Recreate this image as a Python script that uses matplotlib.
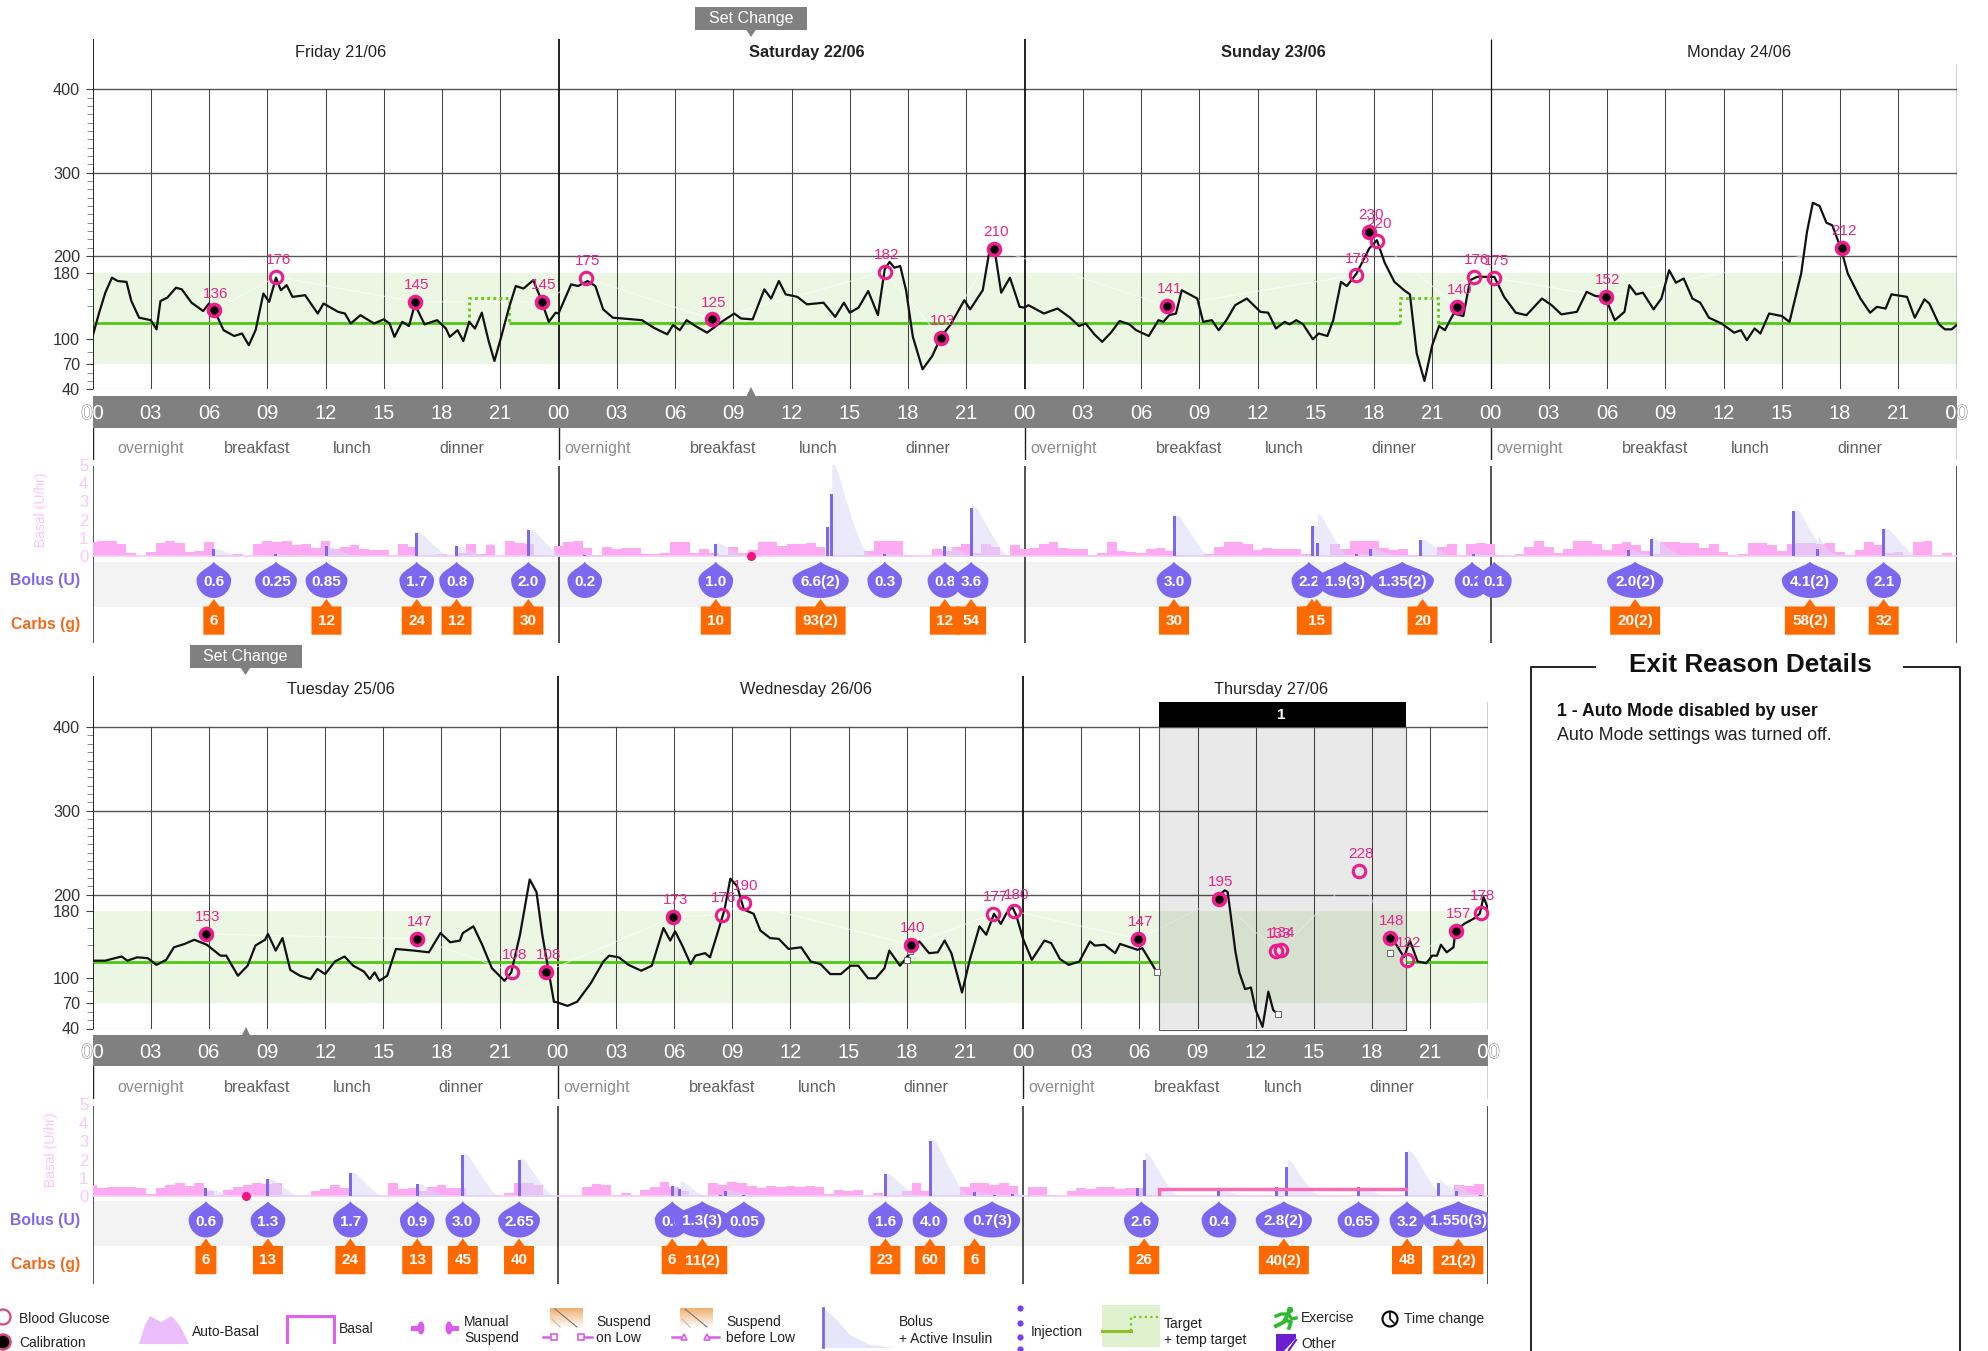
import numpy as np
import matplotlib
matplotlib.use('Agg')
import matplotlib.pyplot as plt
from matplotlib.path import Path
from matplotlib.patches import PathPatch, Polygon, Rectangle, Circle, Ellipse
import matplotlib.patheffects as pe

plt.rcParams['font.family'] = ['Liberation Sans', 'DejaVu Sans']

# glucose curves, hour of day / mg/dL
fri_h = [0.0,0.33,0.66,1.0,1.3,1.75,2.0,2.4,3.0,3.3,3.5,3.85,4.3,4.6,5.1,5.7,6.0,6.35,6.75,7.3,7.7,8.05,8.4,8.8,9.1,9.45,9.7,10.0,10.3,10.95,11.6,11.9,12.65,13.0,13.3,13.8,14.5,15.0,15.3,15.55,15.95,16.3,16.6,17.1,17.75,18.2,18.4,18.8,19.1,19.4,19.7,20.05,20.4,20.7,21.05,21.45,21.8,22.2,22.7,23.0,23.5,23.85]
fri_v = [103,131,156,174,170,169,146,126,123,112,146,150,162,160,144,134,143,131,111,104,107,93,111,155,145,174,159,165,151,153,131,143,133,131,119,129,119,124,119,103,121,116,142,118,123,113,103,111,98,121,113,132,98,74,103,138,164,161,171,154,121,132]
sat_h = [0.0,0.65,1.0,1.5,1.9,2.3,2.8,4.3,4.9,5.6,5.9,6.25,6.6,7.05,7.65,8.4,9.05,9.4,10.0,10.6,10.95,11.35,11.7,12.3,12.8,13.65,14.25,14.7,15.0,15.45,15.95,16.45,16.8,17.05,17.3,17.6,17.9,18.25,18.75,19.25,19.7,20.2,20.9,21.2,21.85,22.2,22.45,22.8,23.25,23.75]
sat_v = [131,166,164,170,164,136,126,123,114,106,117,111,123,116,108,121,131,125,124,160,149,170,154,151,142,144,127,144,132,138,158,129,184,193,186,188,159,103,64,80,103,118,147,136,159,207,209,156,174,139]
sun_h = [0.0,0.2,1.0,1.7,2.35,2.8,3.15,3.6,4.0,4.45,4.9,5.4,5.75,6.4,6.9,7.15,7.45,7.8,8.1,8.9,9.2,9.65,10.0,10.4,10.85,11.45,12.15,12.55,12.95,13.4,13.65,14.0,14.35,14.85,15.15,15.6,15.9,16.3,16.6,17.1,17.75,18.15,18.55,19.05,19.55,19.85,20.2,20.6,21.0,21.35,21.65,22.1,22.6,22.95,23.3,23.95]
sun_v = [138,141,131,137,126,116,119,106,97,108,122,118,111,104,123,121,129,131,159,149,121,123,111,123,141,149,133,132,113,121,118,123,118,100,107,104,123,169,164,179,209,219,192,169,159,154,83,50,93,116,111,131,128,171,175,175]
mon_h = [0.2,0.7,1.3,1.85,2.65,3.15,3.65,4.45,4.95,5.4,5.9,6.4,6.9,7.15,7.5,7.85,8.4,8.8,9.2,9.55,9.95,10.4,10.8,11.25,11.9,12.55,12.9,13.2,13.6,13.9,14.35,15.0,15.4,16.0,16.3,16.6,16.95,17.3,17.6,18.05,18.4,19.05,19.55,19.9,20.35,20.65,21.45,21.85,22.35,22.6,23.1,23.4,23.75,24.0]
mon_v = [175,151,132,129,149,141,130,133,157,152,151,123,133,165,154,156,136,149,183,168,173,149,144,126,119,108,111,99,113,107,131,128,121,179,229,264,260,240,237,209,179,149,132,139,137,154,151,126,148,143,118,112,112,117]
tue_h = [0.0,0.65,1.5,1.8,2.3,2.85,3.3,3.8,4.2,4.75,5.25,5.9,6.6,6.9,7.5,8.0,8.4,8.9,9.05,9.45,9.8,10.2,10.7,11.25,11.6,12.0,12.5,13.0,13.45,14.0,14.3,14.55,14.8,15.2,15.65,16.6,17.35,17.95,18.45,18.95,19.1,19.65,20.1,20.6,21.25,21.6,22.05,22.55,22.9,23.2,23.5,23.8]
tue_v = [121,121,126,121,125,124,116,122,137,141,146,140,127,127,103,115,139,146,153,133,148,110,103,99,111,105,120,126,115,108,99,107,97,103,135,133,131,154,143,145,154,162,140,112,97,107,152,218,203,152,112,72]
wed_h = [0.0,0.5,1.0,1.7,2.35,2.65,3.15,3.65,4.3,4.85,5.45,5.8,6.05,6.4,6.85,7.1,7.6,7.85,8.25,8.6,8.9,9.25,9.6,10.1,10.45,10.95,11.4,11.9,12.55,13.05,13.55,14.05,14.6,15.1,15.5,16.0,16.4,16.85,17.1,17.65,17.9,18.65,19.15,19.6,19.95,20.3,20.85,21.25,21.75,22.1,22.5,22.85,23.15,23.45,23.65]
wed_v = [71,67,72,94,120,127,125,116,109,115,160,145,156,140,117,127,130,125,155,182,219,210,182,177,157,148,147,135,137,120,117,105,105,115,115,100,100,112,133,115,122,144,130,131,145,130,83,122,162,152,177,165,178,185,175]
thu_a_h = [0.0,0.45,1.1,1.45,1.9,2.35,2.9,3.45,3.7,4.2,4.75,5.0,5.9,6.15,6.65,6.9]
thu_a_v = [147,122,145,142,123,116,120,144,139,140,130,141,134,136,117,107]
thu_b_h = [10.15,10.4,10.55,10.7,10.95,11.15,11.45,11.75,12.0,12.35,12.65,12.9,13.15]
thu_b_v = [200,205,203,177,132,107,87,89,62,42,84,62,57]
thu_c_h = [18.9,19.25,19.65,19.95,20.35,20.8,21.1,21.35,21.55,21.85,22.2,22.3,22.75,23.3,23.55,23.75,24.0]
thu_c_v = [148,140,125,145,120,118,127,127,140,131,137,157,165,172,177,197,182]

# fingersticks and calibrations: day index, hour, curve value, printed label, calibration?
row1_day = [0,0,0,0,1,1,1,1,1,2,2,2,2,2,2,3,3,3]
row1_hour = [6.25,9.45,16.6,23.15,1.4,7.9,16.8,19.7,22.45,7.35,17.05,17.75,18.15,22.3,23.15,0.2,5.95,18.1]
row1_value = [135,175,145,145,174,124,181,102,209,140,177,229,218,139,175,174,151,210]
row1_label = ['136','176','145','145','175','125','182','103','210','141','178','230','220','140','176','175','152','212']
row1_calib = [1,0,1,1,0,1,0,1,1,1,0,1,0,1,0,0,1,1]
row2_day = [0,0,0,0,1,1,1,1,1,1,2,2,2,2,2,2,2,2,2]
row2_hour = [5.85,16.75,21.65,23.4,5.95,8.45,9.6,18.2,22.45,23.55,5.95,10.1,13.05,13.3,17.3,18.9,19.8,22.35,23.6]
row2_value = [153,147,108,108,173,176,190,140,177,180,147,195,133,134,228,148,122,157,178]
row2_label = ['153','147','108','108','173','176','190','140','177','180','147','195','133','134','228','148','122','157','178']
row2_calib = [1,1,0,1,1,0,0,1,0,0,1,1,0,0,0,1,0,1,0]

# auto basal, U/hr, one value per half hour
basal_fri = [.8,.85,.85,.65,.2,0,.25,.75,.85,.75,.25,.3,.8,.1,.1,.15,0,.7,.85,.8,.85,.6,.65,.45,.85,.4,.5,.6,.4,.35,.35,.05,.7,.5,0,0,.15,0,.2,.7,.15,.6,0,.85,.75,.7,.1,0]
basal_sat = [.55,.8,.85,.45,.1,.5,.4,.45,.45,.15,.15,.2,.8,.8,.2,.4,.2,.1,.5,.2,.35,.8,.8,.55,.7,.7,.75,.5,.05,0,0,.1,.3,.85,.85,.85,.05,0,0,.4,.3,.5,.7,.2,.7,.5,.1,.6]
basal_sun = [.4,.45,.65,.8,.45,.4,.4,.1,.2,.8,.3,.25,.2,.4,.45,.3,.05,0,0,.15,.5,.8,.8,.65,.35,.45,.4,.4,.4,.15,0,0,.7,.4,.85,.85,.85,.45,.35,.4,.1,0,.1,.5,.65,.1,.7,.75]
basal_mon = [.7,.1,0,.15,.5,.85,.5,.2,.4,.85,.85,.7,.35,.7,.8,.6,.3,.15,.8,.8,.75,.75,.45,.7,.25,.1,.15,.75,.75,.6,.3,.7,.75,.75,.7,.75,.25,.05,.35,.8,.6,.2,.25,.1,.8,.85,.1,.2]
basal_tue = [.6,.45,.5,.5,.5,.45,.15,.45,.6,.7,.55,.75,.3,.1,.35,.5,.6,.7,.65,.7,.1,0,0,.3,.4,.6,.45,0,0,0,0,.7,.4,.45,.3,.5,.6,.45,.45,0,0,0,0,.2,.7,.75,.6,.1]
basal_wed = [0,0,0,.5,.65,.6,.1,.2,0,.35,.5,.8,.5,.3,0,0,.7,.6,.8,.75,.55,.45,.55,.5,.55,.5,.55,.5,.15,.35,.3,.35,0,.2,.1,0,.3,.7,.3,0,0,0,.5,.7,.75,.6,.75,.55]
basal_thu = [0,.5,.5,.1,0,.3,.45,.4,.5,.5,.4,.45,.45,.1,0,0,0,0,0,0,0,0,0,0,0,0,0,0,0,0,0,0,0,0,0,0,0,0,0,0,0,0,0,0,.1,.6,.55,.65]
manual_basal_h = [7,7,19.75]
manual_basal_v = [0,.4,.4]

# bolus bars: hour of day / height on the U/hr axis
bar_h = [[6.25,9.45,12.05,16.7,18.75,22.45],[1.35,8.1,13.85,14.05,16.8,19.9,21.25],[7.7,14.85,15.1,17.1,17.8,20.4,23.1],[7.1,8.3,15.6,16.85,20.25],
         [5.85,9.05,13.3,16.75,19.1,22.0],[5.9,6.3,8.4,8.65,9.6,16.9,19.2,21.5,22.5,23.45],[5.9,6.25,10.1,13.05,13.6,17.3,19.8,21.45,22.35,23.6]]
bar_v = [[.4,.15,.55,1.25,.55,1.45],[.1,.7,1.6,3.4,.15,.55,2.65],[2.2,1.65,.75,.15,.4,.9,.15],[.35,.95,2.5,.4,1.5],
         [.43,.95,1.27,.65,2.25,2.0],[.55,.4,.1,.3,.05,1.2,3.0,.25,.1,.15],[.45,1.95,.35,.5,1.6,.5,2.4,.75,.3,.1]]

# bolus drops and carb boxes
bolus_h = [[6.25,9.45,12.05,16.7,18.75,22.45],[1.35,8.1,13.5,16.8,19.9,21.25],[7.7,14.65,16.5,19.45,23.05],[0.2,7.45,16.45,20.25],
           [5.85,9.05,13.3,16.75,19.1,22.0],[5.9,7.45,9.6,16.9,19.2,22.4],[6.1,10.1,13.45,17.3,19.8,22.45]]
bolus_l = [['0.6','0.25','0.85','1.7','0.8','2.0'],['0.2','1.0','6.6(2)','0.3','0.8','3.6'],['3.0','2.2','1.9(3)','1.35(2)','0.2'],['0.1','2.0(2)','4.1(2)','2.1'],
           ['0.6','1.3','1.7','0.9','3.0','2.65'],['0.6','1.3(3)','0.05','1.6','4.0','0.7(3)'],['2.6','0.4','2.8(2)','0.65','3.2','1.550(3)']]
carb_h = [[6.25,12.05,16.7,18.75,22.45],[8.1,13.5,19.9,21.25],[7.7,14.8,15.05,20.5],[7.45,16.45,20.25],
          [5.85,9.05,13.3,16.75,19.1,22.0],[5.9,7.45,16.9,19.2,21.5],[6.25,13.45,19.8,22.45]]
carb_l = [['6','12','24','12','30'],['10','93(2)','12','54'],['30','','15','20'],['20(2)','58(2)','32'],
          ['6','13','24','13','45','40'],['6','11(2)','23','60','6'],['26','40(2)','48','21(2)']]

day_names = ['Friday 21/06','Saturday 22/06','Sunday 23/06','Monday 24/06','Tuesday 25/06','Wednesday 26/06','Thursday 27/06']
day_bold = [0,1,1,0,0,0,0]
glucose_ticks = [40,70,100,180,200,300,400]
glucose_grid = [200,300,400]
meal_names = ['overnight','breakfast','lunch','dinner']
meal_hours = [2.0,8.47,13.4,19.0]
set_change_hours = [33.9,7.9]
exit_start = 48+7.0
exit_end = 48+19.75
temp_start = [19.4,48+19.35]
temp_end = [21.45,48+21.3]
temp_value = 150
target_value = 120

BOLUS = '#7B68EE'
CARB = '#FF6A00'
PINK = '#EC1C8C'
GREY = '#808080'
W, H = 1988, 1351
fig = plt.figure(figsize=(W/100, H/100), dpi=100)


def px_axes(left, top, right, bottom, xlim, ylim):
    ax = fig.add_axes([left/W, 1-bottom/H, (right-left)/W, (bottom-top)/H])
    ax.set_xlim(*xlim)
    ax.set_ylim(*ylim)
    ax.patch.set_alpha(0)
    for s in ax.spines.values():
        s.set_visible(False)
    ax.set_xticks([])
    ax.set_yticks([])
    return ax


def draw_row(days, x0, dayw, first, py):
    ndays = len(days)
    x1 = x0 + dayw*ndays
    span = 24*ndays
    hpx = dayw/24
    g = px_axes(x0, py['top'], x1, py['g40'], (0, span), (40, 461))
    g.axhspan(70, 180, color='#EBF6E3', lw=0, zorder=1)
    for v in glucose_grid:
        g.plot([0, span], [v, v], color='#555555', lw=1.0, zorder=2)
    for h in range(0, span+1, 3):
        if h % 24:
            g.plot([h, h], [40, 400], color='#444444', lw=0.75, zorder=2)
    g.plot([0, span], [40, 40], color='#777777', lw=0.8, zorder=2)
    for d in range(ndays):
        g.plot([24*d, 24*d], [40, 461], color='#111111', lw=1.3 if d < 3 else 0.9, zorder=3, solid_capstyle='butt')
        g.text(24*d+12.8, 445, day_names[first+d], ha='center', va='center', fontsize=11.8,
               color='#222222', fontweight='bold' if day_bold[first+d] else 'normal')
    g.plot([span, span], [40, 430], color='#111111', lw=1.0, zorder=3)
    g.set_yticks(glucose_ticks)
    g.set_yticks(list(range(210, 400, 10))+[50, 60, 85, 140, 160], minor=True)
    g.tick_params(axis='y', which='major', length=5, width=0.8, pad=4, labelsize=11.7, labelcolor='#333333', color='#444444')
    g.tick_params(axis='y', which='minor', length=4, width=0.6, color='#777777')

    # target
    if first == 0:
        tg = [(0, temp_start[0]), (temp_end[0], temp_start[1]), (temp_end[1], span)]
        for a, b in zip(temp_start, temp_end):
            g.plot([a, a, b, b], [target_value, temp_value, temp_value, target_value], color='#5FCB0A', lw=2, ls=(0, (1, 1.2)), zorder=4)
    else:
        tg = [(0, exit_start), (exit_end, span)]
    for a, b in tg:
        g.plot([a, b], [target_value, target_value], color='#4FC814', lw=2, zorder=4, solid_capstyle='butt')

    # curves
    if first == 0:
        ch = np.r_[fri_h, np.array(sat_h)+24, np.array(sun_h)+48, np.array(mon_h)+72]
        cv = np.r_[fri_v, sat_v, sun_v, mon_v]
        curves = [(ch, cv)]
        md, mh, mv, ml, mc = row1_day, row1_hour, row1_value, row1_label, row1_calib
    else:
        ch = np.r_[tue_h, np.array(wed_h)+24, np.array(thu_a_h)+48]
        cv = np.r_[tue_v, wed_v, thu_a_v]
        curves = [(ch, cv), (np.array(thu_b_h)+48, thu_b_v), (np.array(thu_c_h)+48, thu_c_v)]
        md, mh, mv, ml, mc = row2_day, row2_hour, row2_value, row2_label, row2_calib
        g.add_patch(Rectangle((exit_start, 40), exit_end-exit_start, 360, fc='#000000', alpha=0.085, lw=0, zorder=5))
        g.add_patch(Rectangle((exit_start, 38), exit_end-exit_start, 362, fill=False, ec='#555555', lw=0.8, zorder=5, clip_on=False))
        g.add_patch(Rectangle((exit_start, 400), exit_end-exit_start, 30, fc='black', lw=0, zorder=6))
        g.text(48+13.3, 415, '1', color='white', ha='center', va='center', fontsize=11, fontweight='bold', zorder=7)
        g.plot(np.array([18.0, 18.15, 24+6.9, 24+13.15, 24+18.9])+24, [122, 133, 107, 57, 130], ls='none', marker='s', ms=4.2,
               mfc='white', mec='#666666', mew=0.7, zorder=9)
    mx = np.array(md)*24 + np.array(mh)
    g.plot(mx, mv, color='white', lw=0.9, alpha=0.6, zorder=4.5)
    for h, v in curves:
        g.plot(h, v, color='#111111', lw=1.6, zorder=8, solid_joinstyle='round')
    for x, v, l, c in zip(mx, mv, ml, mc):
        if c:
            g.plot([x], [v], marker='o', ms=8.6, mfc='black', mec=PINK, mew=2.6, zorder=10, clip_on=False)
        else:
            g.plot([x], [v], marker='o', ms=9, mfc='none', mec=PINK, mew=2.2, zorder=10, clip_on=False)
        g.annotate(l, (x, v), xytext=(1.5, 12), textcoords='offset points', ha='center', va='center',
                   fontsize=11, color='#E6268C', zorder=11)

    # time bar
    t = px_axes(x0, py['bar_top'], x1, py['bar_bot'], (0, span), (0, 1))
    t.axhspan(0, 1, color=GREY, lw=0)
    for h in range(0, span+1, 3):
        txt = t.text(h, 0.44, '%02d' % (h % 24), color='white', ha='center', va='center', fontsize=14.5, clip_on=False)
        if h == 0 or h == span:
            txt.set_path_effects([pe.withStroke(linewidth=0.8, foreground='#888888')])
    t.plot([set_change_hours[0 if first == 0 else 1]], [1.1], marker='^', ms=7.5, color=GREY, mew=0, clip_on=False)

    # meal row
    m = px_axes(x0, py['bar_bot'], x1, py['meal_bot'], (0, span), (0, 1))
    for d in range(ndays+1):
        m.plot([24*d]*2, [0, 1], color='#222222', lw=1.0)
    for d in range(ndays):
        for name, h in zip(meal_names, meal_hours):
            if name == 'overnight' and d == 0:
                h = 3.0
            m.text(24*d+h, 0.34, name, ha='center', va='center', fontsize=11.6,
                   color='#8C8C8C' if name == 'overnight' else '#5F5F5F')

    # lower panel, y counted down from the top of the day lines
    lower_h = py['low_bot']-py['low_top']
    lo = px_axes(x0, py['low_top'], x1, py['low_bot'], (0, span), (lower_h, 0))
    lo.axhspan(95.5, 140.5, color='#F3F3F3', lw=0, zorder=1)
    for d in range(ndays+1):
        lo.plot([24*d]*2, [0, lower_h], color='#222222', lw=1.1, zorder=2)
    z = 5
    for d in range(ndays):
        for h, l in zip(bolus_h[first+d], bolus_l[first+d]):
            xc = 24*d+h
            hw = (6.5+3.6*len(l))/hpx
            cy, ry, tip = 114, 18, 95.5
            verts = [(xc, tip), (xc+0.1*hw, tip+5), (xc+hw, cy-9), (xc+hw, cy),
                     (xc+hw, cy+10), (xc+0.55*hw, cy+ry), (xc, cy+ry),
                     (xc-0.55*hw, cy+ry), (xc-hw, cy+10), (xc-hw, cy),
                     (xc-hw, cy-9), (xc-0.1*hw, tip+5), (xc, tip)]
            codes = [Path.MOVETO]+[Path.CURVE4]*12
            lo.add_patch(PathPatch(Path(verts, codes), fc=BOLUS, ec='none', zorder=z))
            lo.text(xc, 116, l, color='white', ha='center', va='center', fontsize=11, fontweight='bold', zorder=z+.5)
            z += 1
        for h, l in zip(carb_h[first+d], carb_l[first+d]):
            xc = 24*d+h
            hw = {0: 15, 1: 10.5, 2: 15}.get(len(l), 25)/hpx
            tri = 5.5/hpx
            pts = [(xc-hw, 168.7), (xc-hw, 140.5), (xc-tri, 140.5), (xc, 133), (xc+tri, 140.5), (xc+hw, 140.5), (xc+hw, 168.7)]
            lo.add_patch(Polygon(pts, closed=True, fc=CARB, ec='none', zorder=5))
        for h, l in zip(carb_h[first+d], carb_l[first+d]):
            lo.text(24*d+h, 155, l, color='white', ha='center', va='center', fontsize=11, fontweight='bold', zorder=6)

    # basal panel
    b = px_axes(x0, py['b5'], x1, py['b0'], (0, span), (0, 5))
    basal_days = [basal_fri, basal_sat, basal_sun, basal_mon, basal_tue, basal_wed, basal_thu]
    bx = np.concatenate([np.arange(48)*0.5+24*d for d in range(ndays)])
    bv = np.concatenate([basal_days[first+d] for d in range(ndays)])
    bx = np.r_[bx, span]
    bv = np.r_[bv, 0]
    b.fill_between(bx, 0, bv, step='mid', color='#FDAAF3', lw=0, zorder=2)
    b.plot([0, span], [0, 0], color='#F9C8F9', lw=1.2, zorder=2, clip_on=False)
    grid = np.arange(0, span+0.01, 0.04)
    active = np.zeros_like(grid)
    hx = []
    hv = []
    for d in range(ndays):
        for h, v in zip(bar_h[first+d], bar_v[first+d]):
            xc = 24*d+h
            hx.append(xc)
            hv.append(v)
            dur = 1.5+0.15*v
            active += np.interp(grid, [xc, xc+0.01, xc+0.15*dur, xc+0.5*dur, xc+0.8*dur, xc+dur],
                                [0, v*1.05, v, v*.52, v*.15, 0], left=0, right=0)
    b.fill_between(grid, 0, active, color='#D9D9F8', alpha=0.55, lw=0, zorder=3)
    b.bar(hx, hv, width=3/hpx, color=BOLUS, lw=0, zorder=4)
    if first != 0:
        b.plot(np.array(manual_basal_h)+48, manual_basal_v, color='#FF69B4', lw=2.4, zorder=5, solid_joinstyle='miter')
    b.plot([set_change_hours[0 if first == 0 else 1]], [0], marker='o', ms=6.5, color='#F0147F', mew=0, zorder=6, clip_on=False)
    b.set_yticks(range(6))
    b.tick_params(axis='y', length=0, pad=3, labelsize=12, labelcolor='#F9C8F9')
    return g


row1 = {'top': 38.7, 'g40': 389.3, 'bar_top': 395.6, 'bar_bot': 427.6, 'meal_bot': 459.6,
        'low_top': 466, 'low_bot': 643, 'b5': 464.6, 'b0': 556.4}
row2 = {'top': 676, 'g40': 1028.5, 'bar_top': 1034.8, 'bar_bot': 1066.3, 'meal_bot': 1098.8,
        'low_top': 1105.5, 'low_bot': 1284, 'b5': 1104.2, 'b0': 1196.4}
draw_row(range(4), 92.5, 466, 0, row1)
draw_row(range(3), 92.5, 465.3, 4, row2)

# everything that is not on a data scale
ov = px_axes(0, 0, W, H, (0, W), (H, 0))
ov.set_zorder(20)

for cx, top in [(751, 7), (245.5, 645)]:
    ov.add_patch(Rectangle((cx-56, top), 112, 22.5, fc=GREY, lw=0))
    ov.add_patch(Polygon([(cx-5, top+22.5), (cx+5, top+22.5), (cx, top+30)], fc=GREY, lw=0))
    ov.text(cx, top+11.5, 'Set Change', color='white', ha='center', va='center', fontsize=11.5)

for y0 in [0, 640.5]:
    ov.text(80, y0+580, 'Bolus (U)', color=BOLUS, ha='right', va='center', fontsize=11.3, fontweight='bold')
    ov.text(80, y0+624, 'Carbs (g)', color='#F26B1D', ha='right', va='center', fontsize=11.3, fontweight='bold')
ov.text(41.5, 510, 'Basal (U/hr)', color='#F9C8F9', rotation=90, ha='center', va='center', fontsize=10)
ov.text(51, 1150, 'Basal (U/hr)', color='#F9C8F9', rotation=90, ha='center', va='center', fontsize=10)

# exit reason box
ov.plot([1595, 1530.5, 1530.5], [666.5, 666.5, 1351], color='#222222', lw=1.4)
ov.plot([1904, 1960, 1960], [666.5, 666.5, 1351], color='#222222', lw=1.4)
ov.text(1750, 664.5, 'Exit Reason Details', ha='center', va='center', fontsize=18.8, fontweight='bold', color='#111111')
ov.text(1557, 711, '1 - Auto Mode disabled by user', ha='left', va='center', fontsize=12.7, fontweight='bold', color='#111111')
ov.text(1557, 735, 'Auto Mode settings was turned off.', ha='left', va='center', fontsize=12.9, color='#222222')

# legend
LG = '#222222'
FS = 10
def lab(x, y, s):
    ov.text(x, y+1, s, ha='left', va='center', fontsize=FS, color=LG)

ov.add_patch(Circle((3, 1317), 7.5, fc='white', ec='#D44A7A', lw=1.6))
ov.add_patch(Circle((3, 1342), 7.5, fc='black', ec='#D44A7A', lw=1.8))
lab(19, 1318, 'Blood Glucose')
lab(19, 1342, 'Calibration')
ov.add_patch(Polygon([(139, 1344), (145, 1325), (150, 1316), (161, 1322), (172, 1316), (180, 1326), (189, 1344)], fc='#EBBDFA', lw=0))
lab(192, 1331, 'Auto-Basal')
ov.plot([287, 287, 334, 334], [1342, 1315.5, 1315.5, 1342], color='#E060F0', lw=2.2, solid_joinstyle='miter')
lab(339, 1328, 'Basal')
for x, s in [(411, 1), (459, -1)]:
    ov.add_patch(Rectangle((x if s > 0 else x-7, 1326), 7, 5, fc='#DB5CEC', lw=0))
    ov.add_patch(Ellipse((x+10*s, 1328), 7, 13, fc='#DB5CEC', lw=0))
lab(464, 1321, 'Manual')
lab(464, 1337, 'Suspend')
grad = np.linspace(0, 1, 40).reshape(-1, 1)
cmap = matplotlib.colors.LinearSegmentedColormap.from_list('s', ['#F0B070', '#FFFFFF'])
for x in [550, 680]:
    ov.imshow(grad, extent=(x, x+33, 1328, 1308), aspect='auto', cmap=cmap, zorder=1)
    ov.plot([x+5, x+27], [1309, 1327], color='#777777', lw=0.8, zorder=2)
    ov.plot([x+2, x+10], [1319, 1327], color='#BBBBBB', lw=0.8, zorder=2)
ov.set_xlim(0, W)
ov.set_ylim(H, 0)
lab(596, 1321, 'Suspend')
lab(596, 1337, 'on Low')
lab(726.5, 1321, 'Suspend')
lab(726.5, 1337, 'before Low')
for a, b, c in [(543, 554, 's'), (592, 581, 's'), (672, 684, '^'), (719, 707, '^')]:
    ov.plot([a, b], [1337, 1337], color='#DB5CEC', lw=1.8)
    ov.plot([b], [1337], marker=c, ms=5, mfc='white', mec='#DB5CEC', mew=1.2)
ov.add_patch(Polygon([(823, 1308), (835, 1318), (850, 1335), (870, 1345), (896, 1348), (823, 1348)], fc='#E6E6FA', lw=0))
ov.plot([823, 823], [1308, 1347], color=BOLUS, lw=2)
lab(899, 1321, 'Bolus')
lab(899, 1338, '+ Active Insulin')
ov.plot([1020]*4, [1308, 1323, 1337, 1349], ls='none', marker='o', ms=4.5, color='#7B3FF2', mew=0)
lab(1030.6, 1331, 'Injection')
ov.add_patch(Rectangle((1102, 1305), 58, 42, fc='#DFF2CF', lw=0))
ov.plot([1102, 1131], [1331, 1331], color='#8CBF26', lw=2.2)
ov.plot([1131, 1131, 1160], [1331, 1317, 1317], color='#7CC520', lw=1.6, ls=(0, (1, 1.5)))
lab(1164, 1323, 'Target')
lab(1164, 1339, '+ temp target')
ov.add_patch(Circle((1290, 1310), 3.2, fc='#2EB82E', lw=0))
ov.plot([1276, 1281, 1288, 1292, 1296], [1316, 1314, 1314, 1319, 1318], color='#2EB82E', lw=2.4)
ov.plot([1288, 1284, 1276], [1314, 1322, 1326], color='#2EB82E', lw=2.8)
ov.plot([1285, 1291, 1289], [1320, 1322, 1328], color='#2EB82E', lw=2.6)
lab(1301, 1317, 'Exercise')
ov.add_patch(Polygon([(1276, 1334), (1296, 1334), (1296, 1338), (1284, 1351), (1276, 1351)], fc='#6A1FD0', lw=0))
ov.plot([1296, 1289], [1340, 1350], color='#6A1FD0', lw=1.6)
lab(1301, 1343, 'Other')
ov.add_patch(Circle((1390, 1319), 7.5, fc='white', ec='black', lw=1.5))
ov.plot([1390, 1390, 1394], [1313, 1319, 1323], color='black', lw=1.2)
lab(1404, 1318, 'Time change')

fig.savefig('out.png', dpi=100)
